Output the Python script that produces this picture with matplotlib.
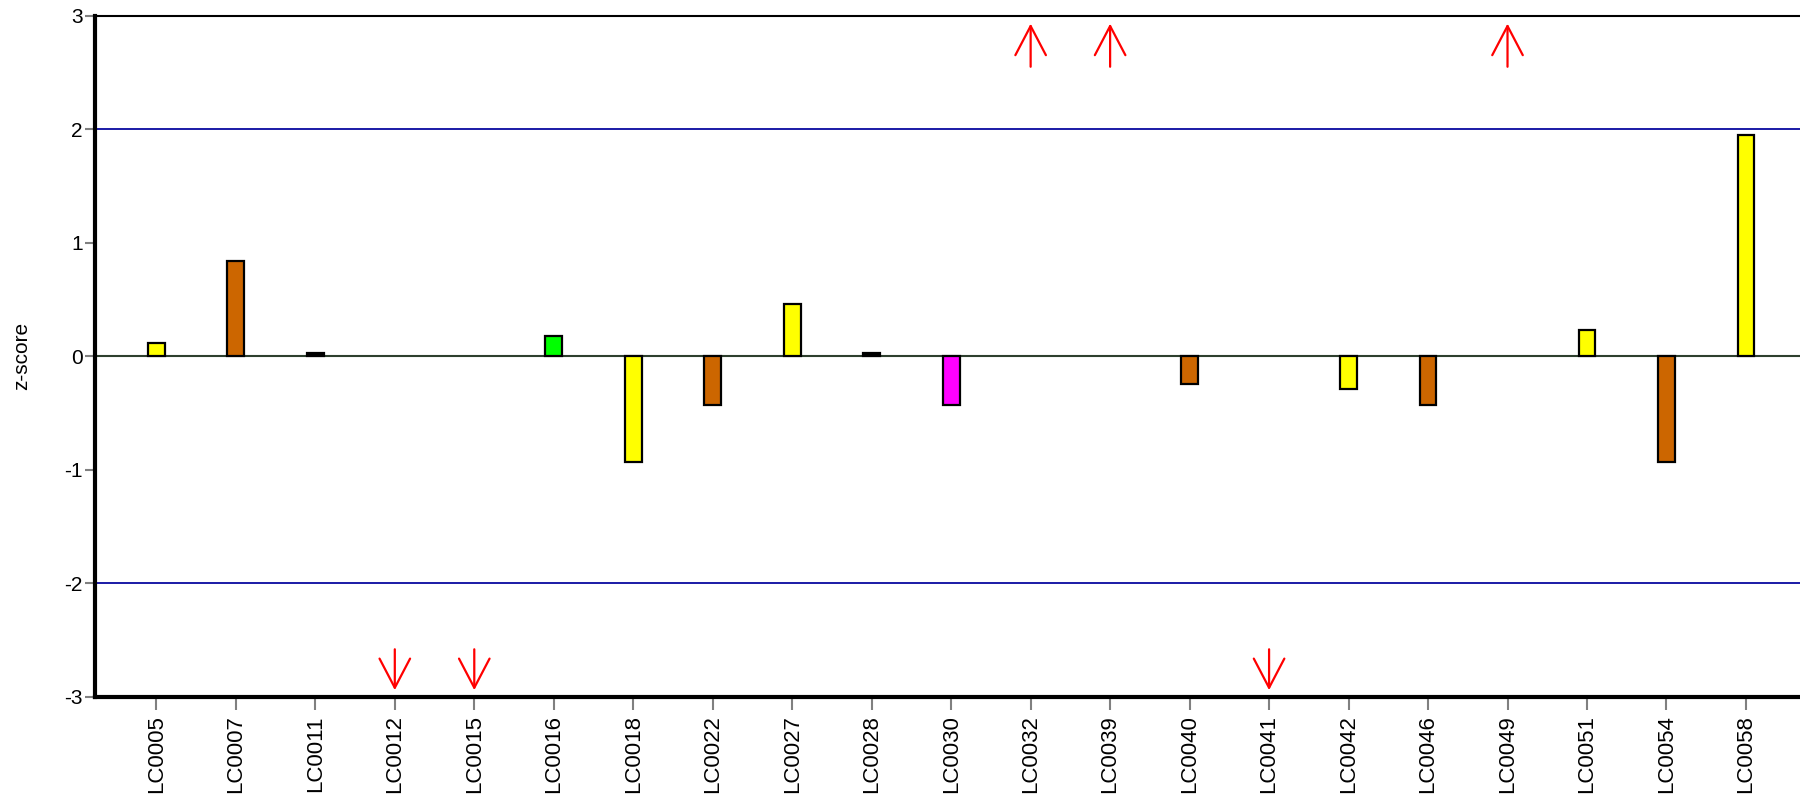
#===============================================================================
# DESCRIPTION
#    z-score of each lab for the proficiency test
#===============================================================================
import numpy as np
import matplotlib
matplotlib.use('Agg')
import matplotlib.pyplot as plt

#===============================================================================
# Data
#===============================================================================
labs = ['LC0005', 'LC0007', 'LC0011', 'LC0012', 'LC0015', 'LC0016', 'LC0018',
        'LC0022', 'LC0027', 'LC0028', 'LC0030', 'LC0032', 'LC0039', 'LC0040',
        'LC0041', 'LC0042', 'LC0046', 'LC0049', 'LC0051', 'LC0054', 'LC0058']
# inf / -inf : out of the plotted range (drawn as arrows)
zscores = [0.12, 0.84, 0.03, -np.inf, -np.inf, 0.18, -0.93,
           -0.43, 0.46, 0.03, -0.43, np.inf, np.inf, -0.24,
           -np.inf, -0.29, -0.43, np.inf, 0.23, -0.93, 1.95]
colors = ['#FFFF00', '#CC6600', '#000000', 'none', 'none', '#00FF00', '#FFFF00',
          '#CC6600', '#FFFF00', '#000000', '#FF00FF', 'none', 'none', '#CC6600',
          'none', '#FFFF00', '#CC6600', 'none', '#FFFF00', '#CC6600', '#FFFF00']
limit = 2
ymin, ymax = -3, 3

plt.rcParams['font.family'] = ['Liberation Sans', 'DejaVu Sans']
plt.rcParams['axes.unicode_minus'] = False

fig = plt.figure(figsize=(18, 7.95), dpi=100)
ax = fig.add_axes([0.053, 0.1233, 0.947, 0.857])

x = np.arange(len(labs))
z = np.array(zscores)
finite = np.isfinite(z)

ax.axhline(limit, color='#1a1aa6', lw=1.4, zorder=1)
ax.axhline(-limit, color='#1a1aa6', lw=1.4, zorder=1)
ax.axhline(0, color='#2e3f2e', lw=1.5, zorder=1)

ax.bar(x[finite], z[finite], width=0.21, color=np.array(colors)[finite],
       edgecolor='black', linewidth=1.6, zorder=2)

#------------------------------------------------------------------------------
# arrows for the labs outside the scale
#------------------------------------------------------------------------------
for xi, zi in zip(x[~finite], z[~finite]):
    if zi > 0:
        head, tail = ymax - 0.07, ymax - 0.45
    else:
        head, tail = ymin + 0.06, ymin + 0.42
    ax.annotate('', xy=(xi, head), xytext=(xi, tail),
                arrowprops=dict(arrowstyle='->,head_length=2.1,head_width=1.1',
                                mutation_scale=10, color='red', lw=1.6,
                                shrinkA=0, shrinkB=0))

ax.set_xlim(-0.767, 20.68)
ax.set_ylim(ymin, ymax)
ax.set_xticks(x)
ax.set_xticklabels(labs, rotation=90, fontsize=16)
ax.set_yticks(np.arange(ymin, ymax + 1))
ax.tick_params(axis='y', labelsize=15, length=7, width=1.5, color='#808080', pad=2)
ax.tick_params(axis='x', length=9, width=1.5, color='#808080', pad=4)
ax.set_ylabel('z-score', fontsize=15, labelpad=24)

ax.spines['left'].set_linewidth(3)
ax.spines['bottom'].set_linewidth(3)
ax.spines['top'].set_linewidth(1.5)
ax.spines['right'].set_visible(False)

plt.savefig('out.png', dpi=100)
